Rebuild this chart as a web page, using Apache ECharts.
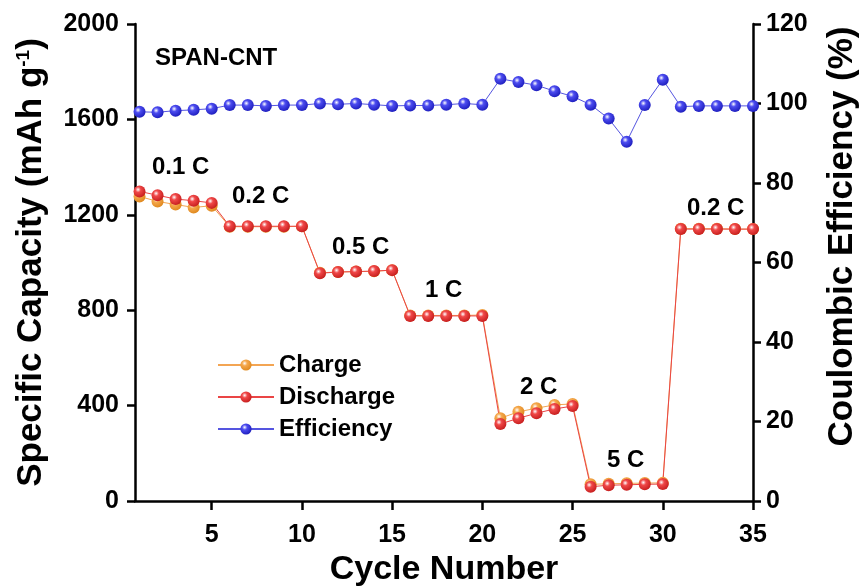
<!DOCTYPE html>
<html>
<head>
<meta charset="utf-8">
<script src="https://cdn.jsdelivr.net/npm/echarts@6/dist/echarts.min.js"></script>
<style>
  html, body { margin: 0; padding: 0; background: #fff; }
  #chart { width: 868px; height: 586px; }
</style>
</head>
<body>
<div id="chart"></div>
<script>
const cycles = Array.from({ length: 35 }, (_, i) => i + 1);
const charge = [1277, 1256, 1243, 1231, 1238, 1150, 1150, 1150, 1150, 1152,
  957, 960, 962, 963, 968, 778, 778, 778, 778, 780,
  347, 374, 389, 403, 407, 70, 72, 74, 75, 76,
  1142, 1142, 1142, 1140, 1140];
const discharge = [1298, 1282, 1266, 1259, 1250, 1152, 1152, 1152, 1152, 1152,
  955, 960, 962, 964, 968, 776, 776, 776, 776, 776,
  323, 347, 368, 386, 398, 60, 66, 68, 70, 71,
  1140, 1140, 1140, 1140, 1140];
const efficiency = [97.9, 97.8, 98.2, 98.4, 98.7, 99.6, 99.6, 99.4, 99.6, 99.6,
  100.0, 99.8, 100.0, 99.7, 99.4, 99.5, 99.5, 99.7, 100.0, 99.7,
  106.2, 105.4, 104.6, 103.1, 101.8, 99.7, 96.2, 90.4, 99.6, 106.0,
  99.2, 99.4, 99.4, 99.4, 99.4];
const xTicks = [5, 10, 15, 20, 25, 30, 35];
const rateLabels = ["0.1 C", "0.2 C", "0.5 C", "1 C", "2 C", "5 C", "0.2 C"];

const FONT = "'Liberation Sans', Arial, sans-serif";

function ball(c, dark) {
  return {
    type: "radial", x: 0.38, y: 0.35, r: 0.65,
    colorStops: [
      { offset: 0, color: "#ffffff" },
      { offset: 0.35, color: c },
      { offset: 1, color: dark }
    ]
  };
}

function pairs(arr) { return arr.map((v, i) => [cycles[i], v]); }

// label spots on the canvas (px)
const labelPos = [[152, 167], [232, 196], [332, 247], [425, 290], [520, 387], [607, 460], [687, 208]];

const axisText = { fontSize: 25, fontWeight: "bold", color: "#000", fontFamily: FONT, formatter: v => String(v) };

const chart = echarts.init(document.getElementById("chart"));
chart.setOption({
  animation: false,
  backgroundColor: "#fff",
  textStyle: { fontFamily: FONT },
  grid: { left: 135, right: 115, top: 24, bottom: 85, outerBoundsMode: "none", containLabel: false },
  legend: {
    orient: "vertical", left: 212, top: 348,
    itemWidth: 56, itemHeight: 14, itemGap: 8,
    textStyle: { fontFamily: FONT, fontSize: 24, fontWeight: "bold", color: "#000", lineHeight: 24 },
    data: ["Charge", "Discharge", "Efficiency"]
  },
  xAxis: {
    type: "value", min: 0.75, max: 35,
    name: "Cycle Number", nameLocation: "middle", nameGap: 51,
    nameTextStyle: { fontFamily: FONT, fontSize: 34, fontWeight: "bold", color: "#000" },
    axisLine: { onZero: false, lineStyle: { color: "#000", width: 2.5 } },
    axisTick: { customValues: xTicks, length: 9, lineStyle: { color: "#000", width: 2.5 } },
    axisLabel: Object.assign({ customValues: xTicks, margin: 22 }, axisText),
    splitLine: { show: false }
  },
  yAxis: [{
    type: "value", min: 0, max: 2000, interval: 400, position: "left",
    name: "Specific Capacity (mAh g{sup|-1})", nameLocation: "middle", nameGap: 86,
    nameTextStyle: {
      fontFamily: FONT, fontSize: 35, fontWeight: "bold", color: "#000",
      rich: { sup: { fontFamily: FONT, fontSize: 19, fontWeight: "bold", color: "#000", padding: [0, 0, 15, 0] } }
    },
    axisLine: { show: true, lineStyle: { color: "#000", width: 2.5 } },
    axisTick: { show: true, length: 8, lineStyle: { color: "#000", width: 2.5 } },
    axisLabel: Object.assign({ margin: 16 }, axisText),
    splitLine: { show: false }
  }, {
    type: "value", min: 0, max: 120, interval: 20, position: "right",
    name: "Coulombic Efficiency (%)", nameLocation: "middle", nameGap: 72,
    nameTextStyle: { fontFamily: FONT, fontSize: 35, fontWeight: "bold", color: "#000", padding: [0, 0, 0, 52] },
    axisLine: { show: true, lineStyle: { color: "#000", width: 2.5 } },
    axisTick: { show: true, length: 8, lineStyle: { color: "#000", width: 2.5 } },
    axisLabel: Object.assign({ margin: 13 }, axisText),
    splitLine: { show: false }
  }],
  series: [{
    name: "Charge", type: "line", data: pairs(charge),
    symbol: "circle", symbolSize: 12,
    lineStyle: { color: "#f3a553", width: 1 },
    itemStyle: { color: ball("#f5a84c", "#e08a20") }
  }, {
    name: "Discharge", type: "line", data: pairs(discharge),
    symbol: "circle", symbolSize: 12,
    lineStyle: { color: "#ea4545", width: 1 },
    itemStyle: { color: ball("#f04848", "#c82020") }
  }, {
    name: "Efficiency", type: "line", yAxisIndex: 1, data: pairs(efficiency),
    symbol: "circle", symbolSize: 12,
    lineStyle: { color: "#5555e0", width: 1 },
    itemStyle: { color: ball("#4c4cf0", "#2020c0") }
  }],
  graphic: [{
    type: "text", left: 155, top: 46,
    style: { text: "SPAN-CNT", font: "bold 24px " + FONT, fill: "#000" }
  }].concat(rateLabels.map((t, i) => ({
    type: "text", x: labelPos[i][0], y: labelPos[i][1],
    style: { text: t, font: "bold 24px " + FONT, fill: "#000", textVerticalAlign: "middle" }
  })))
});
</script>
</body>
</html>
